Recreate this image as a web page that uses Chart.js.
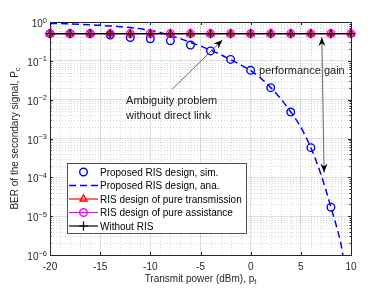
<!DOCTYPE html>
<html>
<head>
<meta charset="utf-8">
<script src="https://cdn.jsdelivr.net/npm/chart.js@4.4.1/dist/chart.umd.min.js"></script>
<style>
  html, body { margin: 0; padding: 0; background: #fff; }
  canvas { display: block; }
</style>
</head>
<body>
<canvas id="ber-chart" width="388" height="291"></canvas>
<script>
// transmit power grid (dBm)
const powerSim = [-20, -18, -16, -14, -12, -10, -8, -6, -4, -2, 0, 2, 4, 6, 8];
const powerAna = [-20, -19, -18, -17, -16, -15, -14, -13, -12, -11, -10, -9, -8, -7, -6, -5, -4, -3, -2, -1, 0, 1, 2, 3, 4, 5, 6, 7, 8, 9, 9.2];
const powerFlat = [-20, -18, -16, -14, -12, -10, -8, -6, -4, -2, 0, 2, 4, 6, 8, 10];

// BER values
const berSim = [0.5, 0.5, 0.5, 0.46, 0.40, 0.37, 0.33, 0.255, 0.18, 0.109, 0.057, 0.0204, 0.0048, 0.00058, 0.000017];
const berAna = [0.92, 0.91, 0.89, 0.87, 0.85, 0.82, 0.79, 0.76, 0.72, 0.67, 0.61, 0.53, 0.45, 0.37, 0.30, 0.24, 0.19, 0.145, 0.107, 0.079, 0.056, 0.036, 0.0204, 0.0105, 0.0048, 0.00195, 0.00058, 0.00012, 0.000017, 0.0000019, 0.000001];
const berPureTrans = [0.5, 0.5, 0.5, 0.5, 0.5, 0.5, 0.5, 0.5, 0.5, 0.5, 0.5, 0.5, 0.5, 0.5, 0.5, 0.5];
const berPureAssist = [0.5, 0.5, 0.5, 0.5, 0.5, 0.5, 0.5, 0.5, 0.5, 0.5, 0.5, 0.5, 0.5, 0.5, 0.5, 0.5];
const berNoRIS = [0.5, 0.5, 0.5, 0.5, 0.5, 0.5, 0.5, 0.5, 0.5, 0.5, 0.5, 0.5, 0.5, 0.5, 0.5, 0.5];

// ticks
const xTicks = [-20, -15, -10, -5, 0, 5, 10];
const yTicks = [1e-6, 1e-5, 1e-4, 1e-3, 1e-2, 1e-1, 1];
const yTickExps = ['\u22126', '\u22125', '\u22124', '\u22123', '\u22122', '\u22121', '0'];

const seriesNames = [
    'Proposed RIS design, sim.',
    'Proposed RIS design, ana.',
    'RIS design of pure transmission',
    'RIS design of pure assistance',
    'Without RIS'
];

const axisColor = '#262626';
const font = '"Liberation Sans", Arial, Helvetica, sans-serif';

function toPoints(xs, ys) {
    return xs.map((x, i) => ({ x: x, y: ys[i] }));
}

// draws a filled arrow head at (x2,y2) pointing away from (x1,y1)
function arrowHead(ctx, x1, y1, x2, y2) {
    const ang = Math.atan2(y2 - y1, x2 - x1);
    const len = 9, wid = 3.5, back = 6;
    ctx.save();
    ctx.translate(x2, y2);
    ctx.rotate(ang);
    ctx.beginPath();
    ctx.moveTo(0, 0);
    ctx.lineTo(-len, -wid);
    ctx.lineTo(-back, 0);
    ctx.lineTo(-len, wid);
    ctx.closePath();
    ctx.fillStyle = '#000';
    ctx.fill();
    ctx.restore();
}

// MATLAB-like axes: minor grid, box, ticks, labels, legend, annotations
const matlabAxes = {
    id: 'matlabAxes',
    beforeDatasetsDraw(chart) {
        const { ctx, chartArea: a, scales: { x, y } } = chart;
        ctx.save();
        ctx.strokeStyle = 'rgba(38,38,38,0.18)';
        ctx.lineWidth = 1;
        ctx.setLineDash([1, 2]);
        for (let v = -19; v < 10; v++) {
            if (v % 5 === 0) continue;
            const px = Math.round(x.getPixelForValue(v)) + 0.5;
            ctx.beginPath();
            ctx.moveTo(px, a.top);
            ctx.lineTo(px, a.bottom);
            ctx.stroke();
        }
        for (let e = -6; e < 0; e++) {
            for (let m = 2; m <= 9; m++) {
                const py = Math.round(y.getPixelForValue(m * Math.pow(10, e))) + 0.5;
                ctx.beginPath();
                ctx.moveTo(a.left, py);
                ctx.lineTo(a.right, py);
                ctx.stroke();
            }
        }
        ctx.setLineDash([]);

        // box and tick marks
        ctx.strokeStyle = axisColor;
        ctx.lineWidth = 1;
        ctx.strokeRect(Math.round(a.left) + 0.5, Math.round(a.top) + 0.5,
            Math.round(a.right - a.left), Math.round(a.bottom - a.top));
        ctx.beginPath();
        xTicks.forEach(v => {
            const px = Math.round(x.getPixelForValue(v)) + 0.5;
            ctx.moveTo(px, a.bottom); ctx.lineTo(px, a.bottom - 3);
            ctx.moveTo(px, a.top); ctx.lineTo(px, a.top + 3);
        });
        yTicks.forEach(v => {
            const py = Math.round(y.getPixelForValue(v)) + 0.5;
            ctx.moveTo(a.left, py); ctx.lineTo(a.left + 3, py);
            ctx.moveTo(a.right, py); ctx.lineTo(a.right - 3, py);
        });
        for (let e = -6; e < 0; e++) {
            for (let m = 2; m <= 9; m++) {
                const py = Math.round(y.getPixelForValue(m * Math.pow(10, e))) + 0.5;
                ctx.moveTo(a.left, py); ctx.lineTo(a.left + 1.5, py);
                ctx.moveTo(a.right, py); ctx.lineTo(a.right - 1.5, py);
            }
        }
        ctx.stroke();
        ctx.restore();
    },
    afterDraw(chart) {
        const { ctx, chartArea: a, scales: { x, y } } = chart;
        ctx.save();
        ctx.fillStyle = axisColor;
        ctx.textBaseline = 'alphabetic';

        // x tick labels
        ctx.font = '10px ' + font;
        ctx.textAlign = 'center';
        xTicks.forEach(v => {
            ctx.fillText(String(v), x.getPixelForValue(v), a.bottom + 15);
        });

        // y tick labels 10^n
        yTicks.forEach((v, i) => {
            const py = y.getPixelForValue(v);
            ctx.font = '7.5px ' + font;
            const ew = ctx.measureText(yTickExps[i]).width;
            ctx.textAlign = 'left';
            ctx.fillText(yTickExps[i], 47 - ew, py + 0.5);
            ctx.font = '10px ' + font;
            ctx.textAlign = 'right';
            ctx.fillText('10', 47 - ew, py + 5);
        });

        // x title with subscript
        const xt = 'Transmit power (dBm), p';
        ctx.font = '10px ' + font;
        const w1 = ctx.measureText(xt).width;
        ctx.font = '7.5px ' + font;
        const w2 = ctx.measureText('t').width;
        const xs = (a.left + a.right) / 2 - (w1 + w2) / 2;
        ctx.textAlign = 'left';
        ctx.font = '10px ' + font;
        ctx.fillText(xt, xs, 281.5);
        ctx.font = '7.5px ' + font;
        ctx.fillText('t', xs + w1, 284);

        // y title with subscript, rotated
        const yt = 'BER of the secondary signal, P';
        ctx.font = '10px ' + font;
        const h1 = ctx.measureText(yt).width;
        ctx.font = '7.5px ' + font;
        const h2 = ctx.measureText('c').width;
        ctx.save();
        ctx.translate(17.5, (a.top + a.bottom) / 2);
        ctx.rotate(-Math.PI / 2);
        ctx.textAlign = 'left';
        ctx.font = '10px ' + font;
        ctx.fillText(yt, -(h1 + h2) / 2, 0);
        ctx.font = '7.5px ' + font;
        ctx.fillText('c', -(h1 + h2) / 2 + h1, 2.5);
        ctx.restore();

        // annotations
        ctx.strokeStyle = axisColor;
        ctx.lineWidth = 0.7;
        const ax1 = x.getPixelForValue(-7.84), ay1 = y.getPixelForValue(0.0184);
        const ax2 = x.getPixelForValue(-2.82), ay2 = y.getPixelForValue(0.344);
        ctx.beginPath(); ctx.moveTo(ax1, ay1); ctx.lineTo(ax2, ay2); ctx.stroke();
        arrowHead(ctx, ax1, ay1, ax2, ay2);

        const bx1 = x.getPixelForValue(7.09), by1 = y.getPixelForValue(0.404);
        const bx2 = x.getPixelForValue(7.32), by2 = y.getPixelForValue(0.000133);
        ctx.beginPath(); ctx.moveTo(bx1, by1); ctx.lineTo(bx2, by2); ctx.stroke();
        arrowHead(ctx, bx2, by2, bx1, by1);
        arrowHead(ctx, bx1, by1, bx2, by2);

        ctx.fillStyle = '#1a1a1a';
        ctx.font = '11px ' + font;
        ctx.textAlign = 'left';
        ctx.textBaseline = 'middle';
        ctx.fillText('performance gain', x.getPixelForValue(0.84), y.getPixelForValue(0.055));
        ctx.fillText('Ambiguity problem', x.getPixelForValue(-12.42), y.getPixelForValue(0.0092));
        ctx.fillText('without direct link', x.getPixelForValue(-12.42), y.getPixelForValue(0.0038));

        // legend box
        const lx = 67, ly = 163, lw = 179, lh = 70;
        ctx.fillStyle = '#fff';
        ctx.fillRect(lx, ly, lw, lh);
        ctx.strokeStyle = axisColor;
        ctx.lineWidth = 0.8;
        ctx.strokeRect(lx + 0.5, ly + 0.5, lw, lh);
        ctx.font = '10px ' + font;
        ctx.textBaseline = 'alphabetic';
        const dsets = chart.data.datasets;
        seriesNames.forEach((name, i) => {
            const ry = 172 + i * 13.5;
            const ds = dsets[i];
            ctx.save();
            if (ds.showLine !== false) {
                ctx.strokeStyle = ds.borderColor;
                ctx.lineWidth = ds.borderWidth;
                ctx.setLineDash(ds.borderDash || []);
                ctx.beginPath(); ctx.moveTo(69, ry); ctx.lineTo(98, ry); ctx.stroke();
                ctx.setLineDash([]);
            }
            if (ds.pointRadius > 0) {
                ctx.fillStyle = 'rgba(0,0,0,0)';
                ctx.strokeStyle = ds.pointBorderColor;
                ctx.lineWidth = ds.pointBorderWidth;
                Chart.helpers.drawPoint(ctx, {
                    pointStyle: ds.pointStyle, radius: ds.pointRadius, rotation: 0,
                    borderWidth: ds.pointBorderWidth
                }, 83.5, ry);
            }
            ctx.restore();
            ctx.fillStyle = '#000';
            ctx.textAlign = 'left';
            ctx.fillText(name, 100, ry + 3.6);
        });
        ctx.restore();
    }
};

new Chart(document.getElementById('ber-chart'), {
    type: 'line',
    data: {
        datasets: [{
            label: seriesNames[0],
            data: toPoints(powerSim, berSim),
            showLine: false,
            borderColor: '#0000ff',
            pointStyle: 'circle',
            pointRadius: 3.8,
            pointBorderWidth: 1.4,
            pointBorderColor: '#0000ff',
            pointBackgroundColor: 'rgba(0,0,0,0)',
            clip: false,
            order: 5
        }, {
            label: seriesNames[1],
            data: toPoints(powerAna, berAna),
            borderColor: '#0000ff',
            borderWidth: 1.5,
            borderDash: [7, 4],
            pointRadius: 0,
            cubicInterpolationMode: 'monotone',
            clip: false,
            order: 4
        }, {
            label: seriesNames[2],
            data: toPoints(powerFlat, berPureTrans),
            borderColor: '#ff0000',
            borderWidth: 1.2,
            pointStyle: 'triangle',
            pointRadius: 4,
            pointBorderWidth: 1.4,
            pointBorderColor: '#ff0000',
            pointBackgroundColor: 'rgba(0,0,0,0)',
            clip: false,
            order: 3
        }, {
            label: seriesNames[3],
            data: toPoints(powerFlat, berPureAssist),
            borderColor: '#ff00ff',
            borderWidth: 1.2,
            pointStyle: 'circle',
            pointRadius: 3.8,
            pointBorderWidth: 1.4,
            pointBorderColor: '#ff00ff',
            pointBackgroundColor: 'rgba(0,0,0,0)',
            clip: false,
            order: 2
        }, {
            label: seriesNames[4],
            data: toPoints(powerFlat, berNoRIS),
            borderColor: '#000000',
            borderWidth: 1.2,
            pointStyle: 'cross',
            pointRadius: 4.5,
            pointBorderWidth: 1.2,
            pointBorderColor: '#000000',
            clip: false,
            order: 1
        }]
    },
    options: {
        responsive: false,
        animation: false,
        layout: {
            padding: { left: 50, right: 37, top: 22, bottom: 36 }
        },
        plugins: {
            legend: { display: false },
            tooltip: { enabled: false }
        },
        scales: {
            x: {
                type: 'linear',
                min: -20,
                max: 10,
                afterBuildTicks: scale => { scale.ticks = xTicks.map(v => ({ value: v })); },
                ticks: { display: false },
                grid: { color: 'rgba(38,38,38,0.15)', lineWidth: 1, drawTicks: false },
                border: { display: false }
            },
            y: {
                type: 'logarithmic',
                min: 1e-6,
                max: 1,
                afterBuildTicks: scale => { scale.ticks = yTicks.map(v => ({ value: v })); },
                ticks: { display: false },
                grid: { color: 'rgba(38,38,38,0.15)', lineWidth: 1, drawTicks: false },
                border: { display: false }
            }
        }
    },
    plugins: [matlabAxes]
});
</script>
</body>
</html>
